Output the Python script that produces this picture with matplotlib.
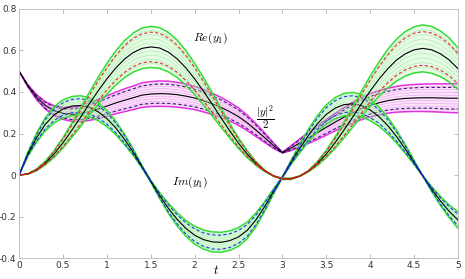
import numpy as np
import matplotlib
matplotlib.use('Agg')
import matplotlib.pyplot as plt

plt.rcParams['mathtext.fontset'] = 'cm'
plt.rcParams['axes.unicode_minus'] = False

# time grid (step 0.1)
t = np.linspace(0, 5, 51)

# Re(y1): mean, std (dashed), envelope half width (band)
re_mean = [0.000, 0.005, 0.025, 0.058, 0.102, 0.155, 0.215, 0.278, 0.343, 0.405,
           0.463, 0.515, 0.558, 0.590, 0.610, 0.617, 0.612, 0.592, 0.560, 0.516,
           0.463, 0.404, 0.341, 0.276, 0.213, 0.153, 0.100, 0.055, 0.020, -0.005,
           -0.018, -0.018, -0.005, 0.020, 0.056, 0.102, 0.156, 0.216, 0.279, 0.343,
           0.405, 0.462, 0.512, 0.554, 0.584, 0.603, 0.610, 0.603, 0.584, 0.554, 0.512]
re_env = [0.000, 0.001, 0.004, 0.009, 0.016, 0.025, 0.034, 0.044, 0.055, 0.065,
          0.074, 0.082, 0.089, 0.094, 0.098, 0.099, 0.098, 0.095, 0.090, 0.083,
          0.075, 0.066, 0.056, 0.045, 0.035, 0.025, 0.017, 0.009, 0.003, 0.001,
          0.003, 0.003, 0.001, 0.003, 0.010, 0.018, 0.027, 0.038, 0.049, 0.061,
          0.072, 0.083, 0.093, 0.101, 0.107, 0.111, 0.113, 0.113, 0.110, 0.106, 0.100]
re_sd = [0.000, 0.001, 0.003, 0.006, 0.012, 0.018, 0.025, 0.032, 0.040, 0.047,
         0.053, 0.059, 0.064, 0.068, 0.070, 0.071, 0.071, 0.068, 0.065, 0.060,
         0.054, 0.047, 0.040, 0.033, 0.025, 0.018, 0.012, 0.007, 0.002, 0.001,
         0.002, 0.002, 0.001, 0.002, 0.007, 0.013, 0.020, 0.027, 0.035, 0.044,
         0.052, 0.060, 0.067, 0.073, 0.077, 0.080, 0.081, 0.081, 0.079, 0.076, 0.072]

# Im(y1)
im_mean = [0.000, 0.100, 0.180, 0.245, 0.290, 0.318, 0.332, 0.335, 0.326, 0.305,
           0.272, 0.228, 0.172, 0.110, 0.040, -0.030, -0.098, -0.160, -0.213, -0.257,
           -0.290, -0.311, -0.322, -0.324, -0.316, -0.298, -0.266, -0.215, -0.150, -0.078,
           -0.010, 0.062, 0.130, 0.193, 0.248, 0.292, 0.322, 0.339, 0.343, 0.335,
           0.313, 0.281, 0.238, 0.185, 0.125, 0.060, -0.005, -0.068, -0.125, -0.175, -0.217]
im_env = [0.000, 0.010, 0.022, 0.032, 0.039, 0.044, 0.046, 0.047, 0.046, 0.043,
          0.039, 0.033, 0.025, 0.016, 0.006, 0.004, 0.014, 0.024, 0.032, 0.038,
          0.043, 0.046, 0.048, 0.048, 0.047, 0.045, 0.040, 0.033, 0.023, 0.012,
          0.002, 0.010, 0.021, 0.030, 0.039, 0.046, 0.051, 0.054, 0.055, 0.054,
          0.051, 0.046, 0.040, 0.031, 0.021, 0.010, 0.001, 0.012, 0.022, 0.031, 0.040]
im_sd = [0.000, 0.007, 0.015, 0.022, 0.027, 0.030, 0.032, 0.033, 0.032, 0.030,
         0.027, 0.023, 0.018, 0.011, 0.004, 0.003, 0.010, 0.017, 0.022, 0.027,
         0.030, 0.032, 0.034, 0.034, 0.033, 0.031, 0.028, 0.023, 0.016, 0.008,
         0.001, 0.007, 0.014, 0.021, 0.027, 0.032, 0.036, 0.038, 0.039, 0.038,
         0.036, 0.032, 0.028, 0.022, 0.015, 0.007, 0.001, 0.008, 0.015, 0.022, 0.028]

# |y|^2 / 2
ny_mean = [0.500, 0.430, 0.375, 0.335, 0.310, 0.297, 0.293, 0.296, 0.305, 0.318,
           0.332, 0.347, 0.360, 0.372, 0.385, 0.390, 0.392, 0.391, 0.387, 0.380,
           0.371, 0.358, 0.343, 0.326, 0.305, 0.281, 0.251, 0.216, 0.179, 0.141,
           0.108, 0.130, 0.155, 0.180, 0.205, 0.230, 0.255, 0.278, 0.300, 0.320,
           0.336, 0.348, 0.358, 0.365, 0.369, 0.371, 0.372, 0.372, 0.371, 0.370, 0.370]
ny_env = [0.000, 0.005, 0.012, 0.018, 0.024, 0.029, 0.034, 0.038, 0.042, 0.046,
          0.049, 0.052, 0.055, 0.057, 0.059, 0.060, 0.061, 0.061, 0.060, 0.058,
          0.056, 0.054, 0.051, 0.048, 0.045, 0.042, 0.037, 0.031, 0.023, 0.013,
          0.002, 0.012, 0.020, 0.027, 0.033, 0.038, 0.042, 0.046, 0.050, 0.053,
          0.056, 0.058, 0.060, 0.062, 0.064, 0.065, 0.066, 0.067, 0.068, 0.069, 0.070]
ny_sd = [0.000, 0.004, 0.009, 0.014, 0.018, 0.022, 0.026, 0.029, 0.032, 0.035,
         0.037, 0.039, 0.041, 0.043, 0.044, 0.045, 0.046, 0.046, 0.045, 0.044,
         0.042, 0.041, 0.038, 0.036, 0.034, 0.032, 0.028, 0.023, 0.017, 0.010,
         0.002, 0.009, 0.015, 0.020, 0.025, 0.029, 0.032, 0.035, 0.038, 0.040,
         0.042, 0.044, 0.045, 0.047, 0.048, 0.049, 0.050, 0.050, 0.051, 0.052, 0.052]

x_ticks = [0, 0.5, 1, 1.5, 2, 2.5, 3, 3.5, 4, 4.5, 5]
x_labels = ['0', '0.5', '1', '1.5', '2', '2.5', '3', '3.5', '4', '4.5', '5']
y_ticks = [-0.4, -0.2, 0, 0.2, 0.4, 0.6, 0.8]
y_labels = ['-0.4', '-0.2', '0', '0.2', '0.4', '0.6', '0.8']


def draw_band(ax, mean, sd, env, fill_c, thin_c, edge_c, dash_c, pinch_c):
    mean = np.array(mean)
    sd = np.array(sd)
    env = np.array(env)
    ax.fill_between(t, mean - env, mean + env, color=fill_c, lw=0)
    for k in np.linspace(-1, 1, 11)[1:-1]:
        ax.plot(t, mean + k * env, color=thin_c, lw=0.4)
    ax.plot(t, mean + env, color=edge_c, lw=1.1)
    ax.plot(t, mean - env, color=edge_c, lw=1.1)
    ax.plot(t, mean + sd, color=dash_c, lw=0.8, ls=(0, (3, 2)))
    ax.plot(t, mean - sd, color=dash_c, lw=0.8, ls=(0, (3, 2)))
    ax.plot(t, mean, color='black', lw=0.8)
    if pinch_c is not None:
        ax.plot(t, np.where(env < 0.013, mean, np.nan), color=pinch_c, lw=0.9)


fig = plt.figure(figsize=(4.65, 2.79), dpi=100)
ax = fig.add_axes([0.041, 0.075, 0.944, 0.893])

draw_band(ax, ny_mean, ny_sd, ny_env, '#fbe3fb', '#f29cf2', '#e030e0', '#3c1e78', None)
draw_band(ax, im_mean, im_sd, im_env, '#e6fae6', '#9ef09e', '#33dd33', '#2040e0', '#2020d0')
draw_band(ax, re_mean, re_sd, re_env, '#e6fae6', '#9ef09e', '#33dd33', '#e03030', '#e02020')

ax.text(2.18, 0.66, r'$Re(y_1)$', fontsize=8.5, ha='center', va='center')
ax.text(1.95, -0.035, r'$Im(y_1)$', fontsize=8.5, ha='center', va='center')
ax.text(2.8, 0.275, r'$\dfrac{|y|^2}{2}$', fontsize=8, ha='center', va='center')

ax.set_xlim(0, 5)
ax.set_ylim(-0.4, 0.8)
ax.set_xticks(x_ticks)
ax.set_xticklabels(x_labels)
ax.set_yticks(y_ticks)
ax.set_yticklabels(y_labels)
ax.tick_params(direction='in', length=3, width=0.6, colors='#b0b0b0',
               labelcolor='#333333', labelsize=6.5, top=True, right=True, pad=2)
for s in ax.spines.values():
    s.set_color('#c0c0c0')
    s.set_linewidth(0.7)
fig.text(216 / 465, 1 - 271 / 279, r'$t$', fontsize=9, ha='center', va='center')

fig.savefig('out.png', dpi=100)
